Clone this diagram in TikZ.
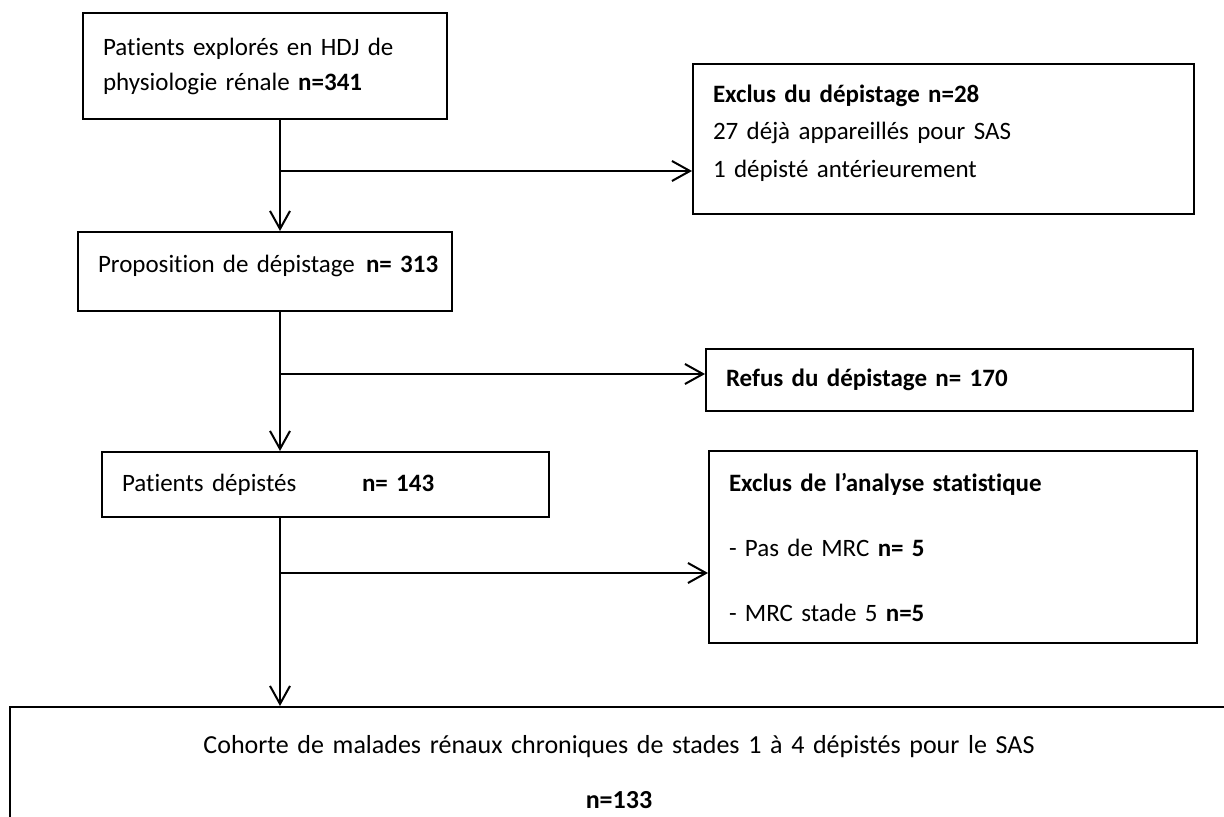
\documentclass[tikz,border=0pt]{standalone}
\usepackage{fontspec}
\setmainfont{Carlito}[Ligatures=NoCommon]
\usetikzlibrary{arrows.meta}

\begin{document}
\begin{tikzpicture}[x=0.5pt,y=-0.5pt,line width=1pt,>={Straight Barb[length=9pt,width=10pt]}]

      \useasboundingbox (0,0) rectangle (1224,817);
      \clip (0,0) rectangle (1224,817);

      \begin{scope}[every node/.style={rectangle,draw,inner xsep=10pt,inner ysep=0pt,align=left,
          font=\fontsize{12.5}{17.5}\selectfont}]
        \node[minimum width=182pt,minimum height=53pt,text width=162pt] (1) at (265,66)
          {Patients explorés en HDJ de\\ physiologie rénale \textbf{n=341}};
        \node[minimum width=250.5pt,minimum height=75pt,text width=230.5pt] (2) at (943.5,139)
          {\textbf{Exclus du dépistage n=28}\\[1.25pt] 27 déjà appareillés pour SAS\\[1.25pt]
           1 dépisté antérieurement\rule[-8pt]{0pt}{8pt}};
        \node[minimum width=187pt,minimum height=39.5pt,text width=167pt] (3) at (265,271.5)
          {\mbox{\makebox[134pt][l]{Proposition de dépistage}\textbf{n=~313}}\rule[-8pt]{0pt}{8pt}};
        \node[minimum width=243.5pt,minimum height=31pt,text width=223.5pt] (4) at (949.5,380)
          {\textbf{Refus du dépistage n= 170}};
        \node[minimum width=223.5pt,minimum height=32.5pt,text width=203.5pt] (5) at (325.5,484.5)
          {\makebox[120pt][l]{Patients dépistés}\textbf{n= 143}};
        \node[minimum width=244pt,minimum height=96pt,text width=224pt] (6) at (953,547)
          {\textbf{Exclus de l’analyse statistique}\\[15pt] - Pas de MRC \textbf{n= 5}\\[15pt] - MRC stade 5 \textbf{n=5}};
        \node[minimum width=609pt,minimum height=65.5pt,text width=589pt,align=center,
          font=\fontsize{13}{17.5}\selectfont] (7) at (619,772.5)
          {Cohorte de malades rénaux chroniques de stades 1 à 4 dépistés pour le SAS\\[10pt] \textbf{n=133}};
      \end{scope}

      \coordinate (j1) at (280,171);
      \coordinate (j2) at (280,374);
      \coordinate (j3) at (280,573);

      \begin{scope}[every edge/.style={draw,->}]
        \path (1.south -| j1) edge (3.north -| j1);
        \path (j1) edge (j1 -| 2.west);
        \path (3.south -| j2) edge (5.north -| j2);
        \path (j2) edge (j2 -| 4.west);
        \path (5.south -| j3) edge (7.north -| j3);
        \path (j3) edge (j3 -| 6.west);
      \end{scope}

    \end{tikzpicture}
\end{document}
